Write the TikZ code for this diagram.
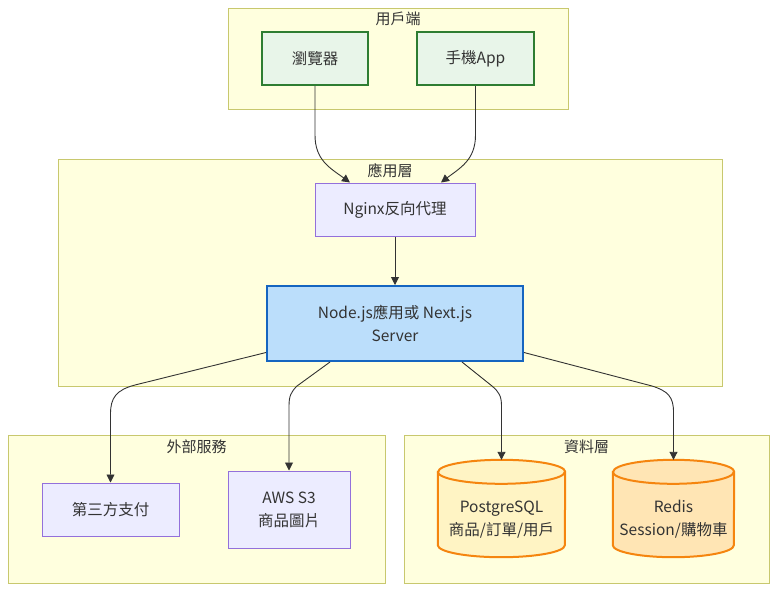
\documentclass[tikz,border=0pt]{standalone}
\usepackage{fontspec}
\setmainfont{Noto Sans CJK TC}
\usetikzlibrary{arrows.meta,calc}
\definecolor{txt}{HTML}{333333}
\definecolor{clfill}{HTML}{FFFFDE}
\definecolor{cldraw}{HTML}{C8C86E}
\definecolor{dfill}{HTML}{ECECFF}
\definecolor{ddraw}{HTML}{9370DB}
\definecolor{gfill}{HTML}{E8F5E9}
\definecolor{gdraw}{HTML}{2E7D32}
\definecolor{bfill}{HTML}{BBDEFB}
\definecolor{bdraw}{HTML}{1565C0}
\definecolor{pgfillc}{HTML}{FFF4C4}
\definecolor{rdfillc}{HTML}{FFE5B4}
\definecolor{odraw}{HTML}{F5850F}
\tikzset{
  cluster/.style={draw=cldraw, fill=clfill, line width=1pt},
  cltitle/.style={text=txt, font=\fontsize{15pt}{18pt}\selectfont, inner sep=0pt},
  base/.style={rectangle, text=txt, font=\fontsize{15.5pt}{23pt}\selectfont, align=center, inner sep=0pt},
  plain/.style={base, draw=ddraw, fill=dfill, line width=1pt},
  client/.style={base, draw=gdraw, fill=gfill, line width=2pt},
  app/.style={base, draw=bdraw, fill=bfill, line width=2pt},
  dbnode/.style={base, draw=none},
  edge/.style={draw=txt, line width=0.9pt, -{Triangle[length=8pt,width=8pt]}},
}
\newcommand\dbcyl[3]{%
  \draw[fill=#3, draw=odraw, line width=2pt]
    ([yshift=-12pt]#1.north west) -- ([yshift=12pt]#1.south west)
    arc[start angle=180,end angle=360,x radius=#2,y radius=12pt]
    -- ([yshift=-12pt]#1.north east)
    arc[start angle=0,end angle=180,x radius=#2,y radius=12pt] -- cycle;
  \draw[draw=odraw, line width=2pt] ([yshift=-12pt]#1.north west)
    arc[start angle=180,end angle=360,x radius=#2,y radius=12pt];
}
\begin{document}
\begin{tikzpicture}[x=1pt,y=-1pt]
\useasboundingbox[fill=white] (0,0) rectangle (784,598);
% clusters
\draw[cluster] (228,8) rectangle (568,109);
\node[cltitle] (t1) at (398,19) {用戶端};
\draw[cluster] (58,159) rectangle (722,386);
\node[cltitle] (t2) at (390,171) {應用層};
\draw[cluster] (8,435) rectangle (385,583);
\node[cltitle] (t3) at (196.5,447) {外部服務};
\draw[cluster] (404,435) rectangle (769,583);
\node[cltitle] (t4) at (586.5,447) {資料層};
% nodes
\node[client, minimum width=106pt, minimum height=53pt] (br) at (315,58.5) {瀏覽器};
\node[client, minimum width=117pt, minimum height=53pt] (mb) at (475.5,58.5) {手機App};
\node[plain, minimum width=160pt, minimum height=53pt] (ng) at (395,209.5) {Nginx反向代理};
\node[app, minimum width=256pt, minimum height=75pt] (nd) at (395,323.5) {Node.js應用或 Next.js\\Server};
\node[plain, minimum width=137pt, minimum height=53pt] (pay) at (110.5,509.5) {第三方支付};
\node[plain, minimum width=122pt, minimum height=77pt] (aws) at (289,509.5) {AWS S3\\商品圖片};
\node[dbnode, minimum width=127pt, minimum height=97pt] (pg) at (501.5,508.5) {};
\node[dbnode, minimum width=121pt, minimum height=97pt] (rd) at (673.5,508.5) {};
\dbcyl{pg}{63.5pt}{pgfillc}
\dbcyl{rd}{60.5pt}{rdfillc}
\node[base] (pgt) at ([yshift=-11pt]pg.center) {PostgreSQL\\商品/訂單/用戶};
\node[base] (rdt) at ([yshift=-11pt]rd.center) {Redis\\Session/購物車};
% edges
\draw[edge] (br.south) -- (315,135) .. controls (315,160) and (330,168) .. ([xshift=-45pt]ng.north);
\draw[edge] (mb.south) -- (475.5,135) .. controls (475.5,160) and (460,168) .. ([xshift=46pt]ng.north);
\draw[edge] (ng.south) -- (nd.north);
\draw[edge] ([yshift=-29pt]nd.west) -- (135,385) .. controls (116,390) and (110.5,398) .. (110.5,414) -- (pay.north);
\draw[edge] ([xshift=-65pt]nd.south) -- (297,386) .. controls (291,392) and (289,396) .. (289,406) -- (aws.north);
\draw[edge] ([xshift=67pt]nd.south) -- (492,386) .. controls (499,392) and (501.5,396) .. (501.5,406) -- (pg.north);
\draw[edge] ([yshift=-29pt]nd.east) -- (652,386) .. controls (668,391) and (673.5,397) .. (673.5,412) -- (rd.north);
\end{tikzpicture}
\end{document}
